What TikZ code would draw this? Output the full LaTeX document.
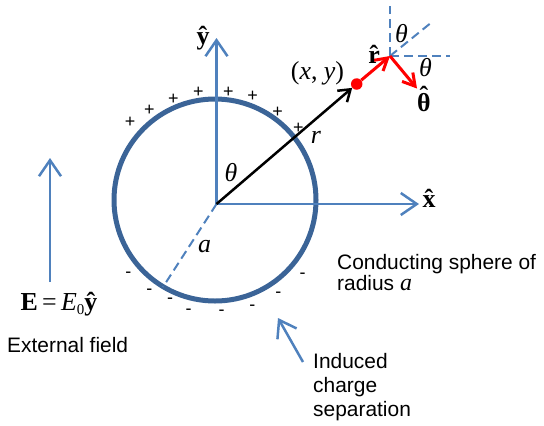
\documentclass[tikz,border=0pt]{standalone}
\usepackage{fontspec}
\setmainfont{Liberation Serif}
\newfontfamily\arialfont{Liberation Sans}
\usetikzlibrary{arrows.meta}
\definecolor{axisblue}{HTML}{4F81BD}
\definecolor{sphereblue}{HTML}{3B6497}
\newcommand\bhat[2][0pt]{{\bfseries\ooalign{#2\cr\hidewidth\raisebox{#1}{\char"02C6}\hidewidth\cr}}}
\begin{document}
\begin{tikzpicture}[x=1bp,y=-1bp,
  lbl/.style={inner sep=0pt, font=\fontsize{26}{28}\selectfont},
  sans/.style={inner sep=0pt, anchor=base west, font=\arialfont\fontsize{21}{23}\selectfont},
  chg/.style={inner sep=0pt, font=\arialfont\fontsize{18}{20}\selectfont},
  axis/.style={draw=axisblue, line width=2.5bp, -{Straight Barb[length=16bp,width=22bp]}},
  guide/.style={draw=axisblue, line width=2bp, dash pattern=on 9bp off 5bp},
  redarrow/.style={draw=red, line width=3bp, -{Straight Barb[length=12bp,width=14bp]}},
  sphere/.style={draw=sphereblue, line width=5bp},
]
\useasboundingbox (0,0) rectangle (544,425);
% sphere
\draw[sphere] (215,200) circle[radius=101];
% coordinates
\coordinate (O) at (216.5,204);
\coordinate (ytip) at (216.5,38);
\coordinate (xtip) at (419,204);
\coordinate (arim) at (163,287);
\coordinate (P) at (390,56);
\coordinate (thtip) at (417,88.5);
\coordinate (vtop) at (390,6);
\coordinate (hend) at (450,56);
\coordinate (dend) at (432,22);
\coordinate (Ebot) at (50,282);
\coordinate (Etip) at (50,158);
\coordinate (ictail) at (303,362);
\coordinate (ictip) at (278,318);
% guides
\draw[guide] (O) -- (arim);
\draw[guide] (P) -- (vtop);
\draw[guide] (P) -- (hend);
\draw[guide] (P) -- (dend);
% axes
\draw[axis] (O) -- (ytip);
\draw[axis] (O) -- (xtip);
\draw[axis] (Ebot) -- (Etip);
\draw[axis] (ictail) -- (ictip);
% radius vector and point
\node[circle, fill=red, minimum size=11.5bp, inner sep=0pt] (pt) at (356.7,84) {};
\draw[black, line width=2.5bp, -{Straight Barb[length=11bp,width=15bp]}] (O) -- (pt);
\draw[redarrow] (pt) -- (P);
\draw[redarrow] (P) -- (thtip);
% labels
\node[lbl] (ylab) at (203,39) {\bhat{y}};
\node[lbl] (xlab) at (429,202) {\bhat{x}};
\node[lbl] (rlab) at (374,57) {\bhat{r}};
\node[lbl] (thlab) at (424,102) {\bhat[0.24em]{θ}};
\node[lbl] (th1) at (401.5,33.5) {\itshape θ};
\node[lbl] (th2) at (425.5,68) {\itshape θ};
\node[lbl] (th0) at (231,172.5) {\itshape θ};
\node[lbl] (alab) at (204.5,247) {\itshape a};
\node[lbl] (rr) at (316,137) {\itshape r};
\node[lbl] (xy) at (317.5,73) {(\textit{x}, \textit{y})};
\node[lbl] (Elab) at (59,304) {\textbf{E}\,=\,\textit{E}\raisebox{-0.3ex}{\fontsize{15}{15}\selectfont 0}\bhat{y}};
% text
\node[sans] (t1) at (337,269) {Conducting sphere of};
\node[sans] (t2) at (337,290) {radius {\rmfamily\itshape\fontsize{24}{24}\selectfont a}};
\node[sans] (t3) at (7,352) {External field};
\node[sans] (t4) at (313,368) {Induced};
\node[sans] (t5) at (313,392) {charge};
\node[sans] (t6) at (313,416) {separation};
% charges
\foreach \p [count=\i] in {(130,122.7),(149.3,110),(173.3,99.3),(198.3,92.7),(228.3,92),(252.7,96.7),(277.7,112.3),(298.3,128.3)}
  \node[chg] (plus\i) at \p {+};
\foreach \p [count=\i] in {(128.3,274.5),(149.3,291.7),(170,301),(188.5,311.7),(221.7,312.3),(252.3,307.7),(278.3,294.7),(302.7,276)}
  \node[chg] (minus\i) at \p {-};
\end{tikzpicture}
\end{document}
